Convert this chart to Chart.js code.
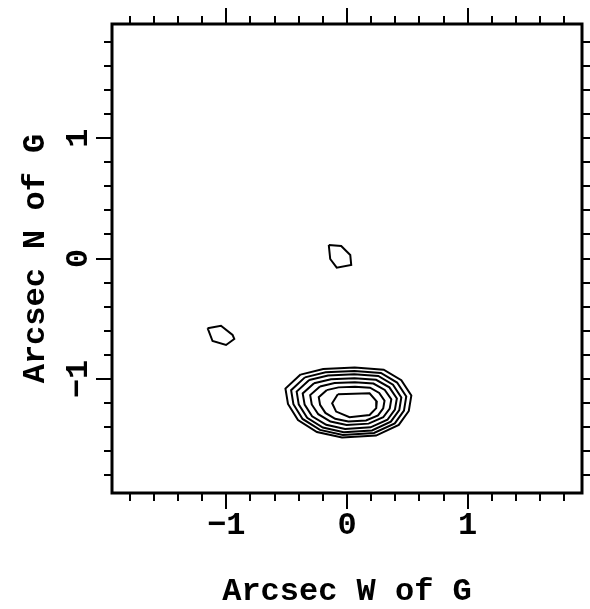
<!DOCTYPE html>
<html>
<head>
<meta charset="utf-8">
<script src="https://cdn.jsdelivr.net/npm/chart.js@4.4.1/dist/chart.umd.min.js"></script>
<style>
  html, body { margin: 0; padding: 0; background: #fff; }
  #wrap { width: 590px; height: 609px; position: relative; }
</style>
</head>
<body>
<div id="wrap"><canvas id="contour-chart"></canvas></div>
<script>
// axis range (arcsec) and ticks
const axisMin = -1.947;
const axisMax = 1.947;
const majorTicks = [-1, 0, 1];
const tickLabels = ["\u22121", "0", "1"];
const minorTicks = [-1.8, -1.6, -1.4, -1.2, -0.8, -0.6, -0.4, -0.2,
  0.2, 0.4, 0.6, 0.8, 1.2, 1.4, 1.6, 1.8];

// contour levels, outermost first (x = arcsec W, y = arcsec N)
const level1X = [-0.385, -0.197, 0.064, 0.304, 0.450, 0.533, 0.512, 0.429, 0.241, -0.041, -0.249, -0.406, -0.489, -0.510, -0.385];
const level1Y = [-0.964, -0.918, -0.906, -0.923, -1.011, -1.138, -1.266, -1.382, -1.470, -1.487, -1.441, -1.342, -1.208, -1.080, -0.964];
const level2X = [-0.349, -0.177, 0.062, 0.281, 0.415, 0.491, 0.472, 0.396, 0.224, -0.034, -0.224, -0.368, -0.444, -0.463, -0.349];
const level2Y = [-0.987, -0.945, -0.934, -0.950, -1.030, -1.146, -1.263, -1.369, -1.449, -1.465, -1.423, -1.332, -1.210, -1.093, -0.987];
const level3X = [-0.313, -0.157, 0.060, 0.259, 0.381, 0.450, 0.433, 0.363, 0.207, -0.027, -0.200, -0.330, -0.400, -0.417, -0.313];
const level3Y = [-1.009, -0.971, -0.961, -0.975, -1.048, -1.153, -1.259, -1.355, -1.428, -1.442, -1.404, -1.322, -1.211, -1.105, -1.009];
const level4X = [-0.273, -0.133, 0.062, 0.241, 0.351, 0.413, 0.397, 0.335, 0.195, -0.016, -0.172, -0.289, -0.351, -0.367, -0.273];
const level4Y = [-1.036, -1.002, -0.994, -1.007, -1.070, -1.162, -1.255, -1.339, -1.402, -1.415, -1.381, -1.310, -1.213, -1.120, -1.036];
const level5X = [-0.224, -0.103, 0.065, 0.219, 0.313, 0.367, 0.354, 0.300, 0.179, -0.003, -0.137, -0.238, -0.292, -0.305, -0.224];
const level5Y = [-1.063, -1.034, -1.027, -1.038, -1.091, -1.169, -1.247, -1.318, -1.371, -1.382, -1.354, -1.293, -1.212, -1.134, -1.063];
const level6X = [-0.169, -0.070, 0.066, 0.191, 0.267, 0.311, 0.300, 0.257, 0.158, 0.011, -0.098, -0.179, -0.223, -0.234, -0.169];
const level6Y = [-1.093, -1.070, -1.064, -1.073, -1.116, -1.180, -1.244, -1.302, -1.345, -1.354, -1.331, -1.282, -1.215, -1.151, -1.093];
const level7X = [-0.076, 0.187, 0.247, 0.242, 0.187, 0.021, -0.090, -0.123, -0.076];
const level7Y = [-1.127, -1.119, -1.188, -1.243, -1.299, -1.318, -1.271, -1.202, -1.127];

// the two small isolated contours
const blobCenterX = [-0.151, -0.048, 0.027, 0.035, -0.085, -0.139, -0.151];
const blobCenterY = [0.112, 0.104, 0.029, -0.054, -0.076, -0.004, 0.112];
const blobWestX = [-1.155, -1.044, -0.948, -0.934, -1.002, -1.114, -1.155];
const blobWestY = [-0.579, -0.558, -0.635, -0.668, -0.718, -0.685, -0.579];

const contours = [
  [level1X, level1Y], [level2X, level2Y], [level3X, level3Y],
  [level4X, level4Y], [level5X, level5Y], [level6X, level6Y],
  [level7X, level7Y], [blobCenterX, blobCenterY], [blobWestX, blobWestY],
];

const MONO = '"Liberation Mono", "DejaVu Sans Mono", monospace';

// frame, outward ticks on all four sides, labels and titles
const frameAxes = {
  id: "frameAxes",
  afterDraw(chart) {
    const { ctx, chartArea: a } = chart;
    const xs = chart.scales.x;
    const ys = chart.scales.y;
    ctx.save();
    ctx.strokeStyle = "#000";
    ctx.fillStyle = "#000";

    ctx.lineWidth = 2;
    ctx.beginPath();
    const drawTick = (v, len) => {
      const px = Math.round(xs.getPixelForValue(v));
      const py = Math.round(ys.getPixelForValue(v));
      ctx.moveTo(px, a.bottom); ctx.lineTo(px, a.bottom + len);
      ctx.moveTo(px, a.top); ctx.lineTo(px, a.top - len);
      ctx.moveTo(a.left, py); ctx.lineTo(a.left - len, py);
      ctx.moveTo(a.right, py); ctx.lineTo(a.right + len, py);
    };
    minorTicks.forEach((v) => drawTick(v, 8));
    majorTicks.forEach((v) => drawTick(v, 16));
    ctx.stroke();

    ctx.lineWidth = 3;
    ctx.strokeRect(a.left, a.top, a.right - a.left, a.bottom - a.top);

    ctx.font = "bold 32px " + MONO;
    ctx.textAlign = "center";
    ctx.textBaseline = "middle";
    majorTicks.forEach((v, i) => {
      ctx.fillText(tickLabels[i], xs.getPixelForValue(v), 526);
    });
    majorTicks.forEach((v, i) => {
      ctx.save();
      ctx.translate(79, ys.getPixelForValue(v));
      ctx.rotate(-Math.PI / 2);
      ctx.fillText(tickLabels[i], 0, 0);
      ctx.restore();
    });

    ctx.fillText("Arcsec W of G", (a.left + a.right) / 2, 592);
    ctx.translate(36, (a.top + a.bottom) / 2);
    ctx.rotate(-Math.PI / 2);
    ctx.fillText("Arcsec N of G", 0, 0);
    ctx.restore();
  },
};

new Chart(document.getElementById("contour-chart"), {
  type: "scatter",
  plugins: [frameAxes],
  data: {
    datasets: contours.map(([xv, yv]) => ({
      data: xv.map((x, i) => ({ x: x, y: yv[i] })),
      showLine: true,
      borderColor: "#000",
      borderWidth: 2,
      pointRadius: 0,
      tension: 0,
      fill: false,
    })),
  },
  options: {
    responsive: true,
    maintainAspectRatio: false,
    animation: false,
    layout: {
      padding: { left: 112, right: 8, top: 24, bottom: 116 },
    },
    scales: {
      x: { type: "linear", min: axisMin, max: axisMax, display: false },
      y: { type: "linear", min: axisMin, max: axisMax, display: false },
    },
    plugins: {
      legend: { display: false },
      tooltip: { enabled: false },
    },
  },
});
</script>
</body>
</html>
